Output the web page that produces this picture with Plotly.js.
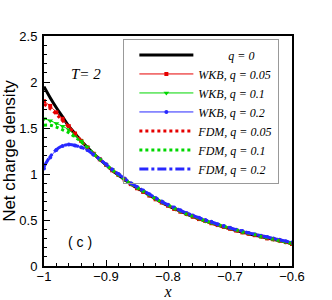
<!DOCTYPE html>
<html><head><meta charset="utf-8">
<script src="https://cdn.plot.ly/plotly-3.0.1.min.js"></script>
<style>html,body{margin:0;padding:0;background:#fff}#chart{width:332px;height:300px}</style>
</head><body><div id="chart"></div>
<script>
var xs = [-1.00,-0.99,-0.98,-0.97,-0.96,-0.95,-0.94,-0.93,-0.92,-0.91,-0.90,-0.89,-0.88,-0.87,-0.86,-0.85,-0.84,-0.83,-0.82,-0.81,-0.80,-0.79,-0.78,-0.77,-0.76,-0.75,-0.74,-0.73,-0.72,-0.71,-0.70,-0.69,-0.68,-0.67,-0.66,-0.65,-0.64,-0.63,-0.62,-0.61,-0.60];
var q0 = [1.95,1.83,1.72,1.62,1.52,1.44,1.36,1.29,1.22,1.16,1.10,1.04,0.99,0.94,0.89,0.85,0.81,0.77,0.73,0.69,0.655,0.625,0.595,0.565,0.54,0.515,0.49,0.47,0.445,0.425,0.405,0.385,0.37,0.35,0.335,0.32,0.305,0.29,0.275,0.26,0.245];
var wkb005 = [1.79,1.74,1.67,1.60,1.52,1.44,1.36,1.29,1.22,1.16,1.10,1.04,0.99,0.94,0.89,0.845,0.805,0.765,0.725,0.69,0.655,0.62,0.59,0.565,0.535,0.51,0.49,0.465,0.445,0.425,0.405,0.385,0.365,0.35,0.335,0.32,0.30,0.29,0.275,0.26,0.24];
var wkb01 = [1.60,1.58,1.55,1.52,1.48,1.42,1.36,1.29,1.22,1.16,1.10,1.045,0.99,0.94,0.895,0.85,0.81,0.77,0.73,0.695,0.66,0.625,0.595,0.565,0.54,0.515,0.49,0.47,0.45,0.43,0.41,0.39,0.37,0.355,0.34,0.32,0.305,0.29,0.275,0.26,0.245];
var wkb02 = [1.06,1.18,1.26,1.305,1.32,1.31,1.29,1.26,1.21,1.16,1.105,1.05,1.0,0.95,0.90,0.86,0.82,0.78,0.74,0.70,0.665,0.635,0.605,0.575,0.55,0.525,0.50,0.48,0.455,0.435,0.415,0.395,0.38,0.36,0.345,0.33,0.315,0.30,0.285,0.27,0.255];
var fdm005 = [1.76,1.71,1.65,1.58,1.51,1.44,1.36,1.29,1.22,1.16,1.10,1.04,0.99,0.94,0.89,0.845,0.805,0.765,0.725,0.69,0.655,0.62,0.59,0.565,0.535,0.51,0.49,0.465,0.445,0.425,0.405,0.385,0.365,0.35,0.335,0.32,0.30,0.29,0.275,0.26,0.24];
var fdm01 = [1.53,1.53,1.51,1.48,1.45,1.40,1.35,1.29,1.22,1.16,1.10,1.045,0.99,0.94,0.895,0.85,0.81,0.77,0.73,0.695,0.66,0.625,0.595,0.565,0.54,0.515,0.49,0.47,0.45,0.43,0.41,0.39,0.37,0.355,0.34,0.32,0.305,0.29,0.275,0.26,0.245];
var fdm02 = [1.08,1.19,1.265,1.305,1.32,1.31,1.29,1.26,1.21,1.16,1.105,1.05,1.0,0.95,0.90,0.86,0.82,0.78,0.74,0.70,0.665,0.635,0.605,0.575,0.55,0.525,0.50,0.48,0.455,0.435,0.415,0.395,0.38,0.36,0.345,0.33,0.315,0.30,0.285,0.27,0.255];
var names = ['\u00a0\u00a0\u00a0\u00a0\u00a0\u00a0\u00a0\u00a0\u00a0\u00a0<i>q = 0</i>','<i>WKB, q = 0.05</i>','<i>WKB, q = 0.1</i>','<i>WKB, q = 0.2</i>','<i>FDM, q = 0.05</i>','<i>FDM, q = 0.1</i>','<i>FDM, q = 0.2</i>'];

var RED='rgb(230,0,0)', GREEN='rgb(0,215,0)', BLUE='rgb(40,40,255)';
var traces = [
 {x:xs,y:q0,name:names[0],mode:'lines',line:{color:'#000',width:3,shape:'spline'}},
 {x:xs,y:wkb005,name:names[1],mode:'lines+markers',line:{color:RED,width:1,shape:'spline'},marker:{symbol:'square',size:4,color:RED}},
 {x:xs,y:wkb01,name:names[2],mode:'lines+markers',line:{color:GREEN,width:1,shape:'spline'},marker:{symbol:'triangle-down',size:5,color:GREEN}},
 {x:xs,y:wkb02,name:names[3],mode:'lines+markers',line:{color:BLUE,width:1,shape:'spline'},marker:{symbol:'circle',size:4,color:BLUE}},
 {x:xs,y:fdm005,name:names[4],mode:'lines',line:{color:RED,width:3,dash:'dot',shape:'spline'}},
 {x:xs,y:fdm01,name:names[5],mode:'lines',line:{color:GREEN,width:3,dash:'dot',shape:'spline'}},
 {x:xs,y:fdm02,name:names[6],mode:'lines',line:{color:BLUE,width:3,dash:'dashdot',shape:'spline'}}
];
var tickFont = {family:'Liberation Sans, Arial', size:13, color:'#000'};
var layout = {
 width:332, height:300,
 margin:{l:44,r:40,t:36,b:34},
 paper_bgcolor:'#fff', plot_bgcolor:'#fff',
 showlegend:true,
 legend:{x:0.32,y:0.985,xanchor:'left',yanchor:'top',bgcolor:'rgba(255,255,255,0)',bordercolor:'#999',borderwidth:1,
   font:{family:'Liberation Serif',size:12,color:'#000'},itemwidth:54,indentation:10,tracegroupgap:0},
 xaxis:{range:[-1,-0.6],dtick:0.1,tick0:-1,ticks:'inside',ticklen:6,tickwidth:1,tickcolor:'#000',ticklabelstandoff:-3,
   showline:true,linecolor:'#000',linewidth:2,mirror:true,showgrid:false,zeroline:false,
   minor:{dtick:0.02,ticks:'inside',ticklen:3,tickcolor:'#000',showgrid:false},
   tickfont:tickFont,
   title:{text:'x',font:{family:'Liberation Serif, Times New Roman',size:16,style:'italic',color:'#000'},standoff:2}},
 yaxis:{range:[0,2.5],dtick:0.5,ticks:'inside',ticklen:6,tickwidth:1,tickcolor:'#000',ticklabelstandoff:2,
   showline:true,linecolor:'#000',linewidth:2,mirror:true,showgrid:false,zeroline:false,
   minor:{dtick:0.1,ticks:'inside',ticklen:3,tickcolor:'#000',showgrid:false},
   tickfont:tickFont,
   title:{text:'Net charge density',font:{family:'Liberation Sans, Arial',size:17,color:'#000'},standoff:2}},
 annotations:[
  {x:-0.932,y:2.09,xref:'x',yref:'y',text:'T= 2',showarrow:false,font:{family:'Liberation Serif, Times New Roman',size:15,style:'italic',color:'#000'}},
  {x:-0.942,y:0.26,xref:'x',yref:'y',text:'(\u00a0c\u00a0)',showarrow:false,font:{family:'Liberation Sans, Arial',size:14,color:'#000'}}
 ]
};
Plotly.newPlot('chart',traces,layout,{displayModeBar:false,staticPlot:true});
</script></body></html>
